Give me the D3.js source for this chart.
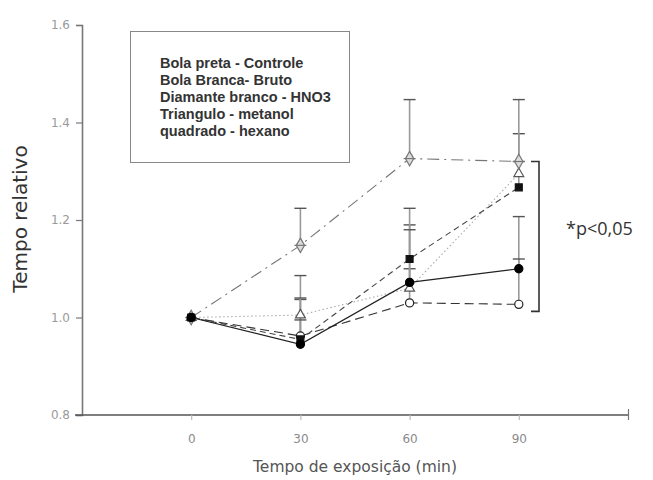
<!DOCTYPE html>
<html>
<head>
<meta charset="utf-8">
<script src="https://cdn.jsdelivr.net/npm/d3@7"></script>
<style>
  html, body { margin: 0; padding: 0; background: #fff; }
  svg { display: block; }
</style>
</head>
<body>
<svg id="chart" width="653" height="480"></svg>
<script>
// Exposure times (min)
const times = [0, 30, 60, 90];

// Relative time, mean per group
const controle = [1.0, 0.945, 1.072, 1.100];
const bruto    = [1.0, 0.962, 1.030, 1.027];
const hno3     = [1.0, 1.148, 1.326, 1.320];
const metanol  = [1.0, 1.005, 1.060, 1.295];
const hexano   = [1.0, 0.955, 1.120, 1.267];

// Upper error (SEM) per group
const controleErr = [0, 0.050, 0.108, 0.020];
const brutoErr    = [0, 0.075, 0.070, 0.180];
const hno3Err     = [0, 0.076, 0.121, 0.127];
const metanolErr  = [0, 0.081, 0.130, 0.082];
const hexanoErr   = [0, 0.085, 0.104, 0.053];

const xTicks = [0, 30, 60, 90, 120];
const xTickLabels = ["0", "30", "60", "90", ""];
const yTicks = [0.8, 1.0, 1.2, 1.4, 1.6];

const legendLines = [
  "Bola preta - Controle",
  "Bola Branca- Bruto",
  "Diamante branco - HNO3",
  "Triangulo - metanol",
  "quadrado - hexano"
];

const series = [
  { values: bruto,    err: brutoErr,    shape: "circle",   fill: "#fff", stroke: "#222", dash: "9,5",        line: "#333" },
  { values: metanol,  err: metanolErr,  shape: "triangle", fill: "#fff", stroke: "#555", dash: "1.5,2.5",    line: "#aaa" },
  { values: hexano,   err: hexanoErr,   shape: "square",   fill: "#111", stroke: "#111", dash: "6,4",        line: "#444" },
  { values: hno3,     err: hno3Err,     shape: "diamond",  fill: "#ddd", stroke: "#777", dash: "12,5,2,5",   line: "#777" },
  { values: controle, err: controleErr, shape: "circle",   fill: "#000", stroke: "#000", dash: null,         line: "#222" }
];

const svg = d3.select("#chart");

const x = d3.scaleLinear().domain([-30, 120]).range([82, 628]);
const y = d3.scaleLinear().domain([0.8, 1.6]).range([415, 25]);

const sans = "DejaVu Sans, Verdana, sans-serif";

// Axes
const yAxis = d3.axisLeft(y).tickValues(yTicks).tickFormat(d3.format(".1f")).tickSize(6).tickPadding(6);
const gy = svg.append("g").attr("transform", `translate(${x(-30)},0)`).call(yAxis);
gy.select(".domain").attr("stroke", "#777").attr("stroke-width", 1.6);
gy.selectAll(".tick line").attr("stroke", "#777").attr("stroke-width", 1.2);
gy.selectAll(".tick text").attr("fill", "#9a9a9a").attr("font-family", sans).attr("font-size", 12);

const xAxis = d3.axisBottom(x).tickValues(xTicks).tickFormat((d, i) => xTickLabels[i]).tickSize(5).tickPadding(14);
const gx = svg.append("g").attr("transform", `translate(0,${y(0.8)})`).call(xAxis);
gx.select(".domain").attr("stroke", "#555").attr("stroke-width", 1.5).attr("d", `M${x(-30) - 7},0H${x(120)}`);
gx.selectAll(".tick line").attr("stroke", "#bbb").attr("stroke-width", 1.2);
gx.selectAll(".tick").filter(d => d === 120).select("line").attr("y1", -6).attr("stroke", "#777");
gx.selectAll(".tick text").attr("fill", "#8a8a8a").attr("font-family", sans).attr("font-size", 12);

// Axis titles
svg.append("text")
  .attr("transform", `translate(27,219) rotate(-90)`)
  .attr("text-anchor", "middle")
  .attr("font-family", sans)
  .attr("font-size", 20)
  .attr("fill", "#333")
  .text("Tempo relativo");

svg.append("text")
  .attr("x", 355).attr("y", 472)
  .attr("text-anchor", "middle")
  .attr("font-family", sans)
  .attr("font-size", 15.5)
  .attr("fill", "#555")
  .text("Tempo de exposição (min)");

// Legend box
svg.append("rect")
  .attr("x", 130.5).attr("y", 31.5).attr("width", 219).attr("height", 131)
  .attr("fill", "#fff").attr("stroke", "#888").attr("stroke-width", 1);
svg.append("g").selectAll("text").data(legendLines).join("text")
  .attr("x", 160)
  .attr("y", (d, i) => 68 + i * 17)
  .attr("font-family", "Liberation Sans, Arial, sans-serif")
  .attr("font-size", 14.5)
  .attr("font-weight", "bold")
  .attr("fill", "#333")
  .text(d => d);

// Error bars (upper only)
const errG = svg.append("g");
series.forEach(s => {
  times.forEach((t, i) => {
    if (!s.err[i]) return;
    const top = s.values[i] + s.err[i];
    errG.append("line")
      .attr("x1", x(t)).attr("x2", x(t))
      .attr("y1", y(s.values[i])).attr("y2", y(top))
      .attr("stroke", "#999").attr("stroke-width", 1.6);
    errG.append("line")
      .attr("x1", x(t) - 6).attr("x2", x(t) + 6)
      .attr("y1", y(top)).attr("y2", y(top))
      .attr("stroke", "#555").attr("stroke-width", 1.4);
  });
});

// Lines
const lineGen = d3.line().x((d, i) => x(times[i])).y(d => y(d));
series.forEach(s => {
  svg.append("path")
    .datum(s.values)
    .attr("d", lineGen)
    .attr("fill", "none")
    .attr("stroke", s.line)
    .attr("stroke-width", 1.1)
    .attr("stroke-dasharray", s.dash);
});

// Markers
const symbolType = {
  circle: d3.symbolCircle,
  triangle: d3.symbolTriangle,
  square: d3.symbolSquare,
  diamond: d3.symbolDiamond
};
const symbolSize = { circle: 52, triangle: 42, square: 48, diamond: 60 };
series.forEach(s => {
  svg.append("g").selectAll("path").data(s.values).join("path")
    .attr("transform", (d, i) => `translate(${x(times[i])},${y(d)})`)
    .attr("d", d3.symbol().type(symbolType[s.shape]).size(symbolSize[s.shape]))
    .attr("fill", s.fill)
    .attr("stroke", s.stroke)
    .attr("stroke-width", 1.2);
  if (s.shape === "diamond") {
    svg.append("g").selectAll("line").data(s.values).join("line")
      .attr("x1", (d, i) => x(times[i]) - 6).attr("x2", (d, i) => x(times[i]) + 6)
      .attr("y1", d => y(d)).attr("y2", d => y(d))
      .attr("stroke", "#777").attr("stroke-width", 1.2);
  }
});

// Significance bracket
const bx = 539;
const bTop = y(hno3[3]);
const bBot = y(bruto[3]) + 7;
svg.append("path")
  .attr("d", `M${bx - 8},${bTop}H${bx}V${bBot}H${bx - 8}`)
  .attr("fill", "none")
  .attr("stroke", "#333")
  .attr("stroke-width", 1.6);
svg.append("text")
  .attr("x", 566).attr("y", 235)
  .attr("font-family", "Open Sans, sans-serif")
  .attr("font-size", 18)
  .attr("fill", "#333")
  .text("*p<0,05");
</script>
</body>
</html>
